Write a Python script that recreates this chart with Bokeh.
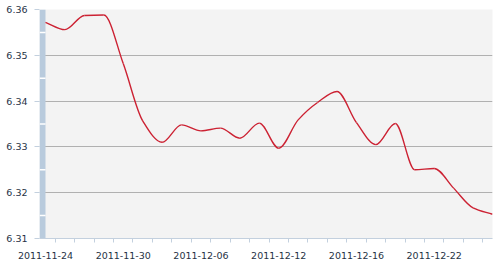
import numpy as np
from bokeh.plotting import figure
from bokeh.models import FixedTicker, Range1d
from bokeh.embed import file_html
from bokeh.resources import INLINE

dates = ["2011-11-24", "2011-11-25", "2011-11-28", "2011-11-29", "2011-11-30",
         "2011-12-01", "2011-12-02", "2011-12-05", "2011-12-06", "2011-12-07",
         "2011-12-08", "2011-12-09", "2011-12-12", "2011-12-13", "2011-12-14",
         "2011-12-15", "2011-12-16", "2011-12-19", "2011-12-20", "2011-12-21",
         "2011-12-22", "2011-12-23", "2011-12-26", "2011-12-27"]
rates = [6.3572, 6.3556, 6.3587, 6.3588, 6.3482, 6.3357, 6.3310, 6.3348,
         6.3335, 6.3341, 6.3319, 6.3352, 6.3297, 6.3359, 6.3397, 6.3421,
         6.3353, 6.3305, 6.3351, 6.3250, 6.3253, 6.3210, 6.3167, 6.3153]
y_ticks = [6.31, 6.32, 6.33, 6.34, 6.35, 6.36]
label_every = 4

n = len(rates)
xs = np.arange(n, dtype=float)
ys = np.array(rates)

pad = 6.0 / ((492 - 45) / (n - 1))  # left bar width in data units
p = figure(width=500, height=262, output_backend="svg", toolbar_location=None,
           x_range=Range1d(-pad, n - 1), y_range=Range1d(y_ticks[0], y_ticks[-1]),
           min_border_left=39, min_border_right=8, min_border_top=9, min_border_bottom=24)
p.background_fill_color = "#f3f3f3"
p.border_fill_color = "white"
p.outline_line_color = None

# left bar
p.quad(left=[-pad], right=[0], bottom=[y_ticks[0]], top=[y_ticks[-1]],
       fill_color="#b9cbdd", line_color=None)
halfs = [(a + b) / 2 for a, b in zip(y_ticks[:-1], y_ticks[1:])]
p.segment(x0=[-pad] * len(halfs), x1=[0] * len(halfs), y0=halfs, y1=halfs,
          line_color="white", line_width=1.5)

# smooth line: monotone cubic tangents rendered as beziers
d = np.diff(ys)
m = np.zeros(n)
m[0], m[-1] = d[0], d[-1]
for i in range(1, n - 1):
    if d[i - 1] * d[i] <= 0:
        m[i] = 0.0
    else:
        m[i] = 2.0 / (1.0 / d[i - 1] + 1.0 / d[i])
x0, y0 = xs[:-1], ys[:-1]
x1, y1 = xs[1:], ys[1:]
cx0 = x0 + 1 / 3
cy0 = y0 + m[:-1] / 3
cx1 = x1 - 1 / 3
cy1 = y1 - m[1:] / 3
p.bezier(x0=x0, y0=y0, x1=x1, y1=y1, cx0=cx0, cy0=cy0, cx1=cx1, cy1=cy1,
         line_color="#cc2233", line_width=1.4)

# axes
font = "DejaVu Sans"
lab_color = "#1f3345"
tick_color = "#c3d0de"

yax = p.yaxis[0]
yax.ticker = FixedTicker(ticks=y_ticks, minor_ticks=[])
yax.axis_line_color = None
yax.major_tick_out = 5
yax.major_tick_in = 0
yax.major_tick_line_color = tick_color
yax.minor_tick_line_color = None
yax.major_label_standoff = 7
yax.major_label_text_font = font
yax.major_label_text_font_size = "9.5px"
yax.major_label_text_color = lab_color
yax.major_label_overrides = {t: f"{t:.2f}" for t in y_ticks}

xax = p.xaxis[0]
major = list(range(0, n, label_every))
xax.ticker = FixedTicker(ticks=major, minor_ticks=[i + 0.5 for i in range(n - 1)])
xax.major_label_overrides = {i: dates[i] for i in major}
xax.axis_line_color = tick_color
xax.major_tick_line_color = None
xax.major_tick_out = 0
xax.major_tick_in = 0
xax.minor_tick_out = 4
xax.minor_tick_in = 0
xax.minor_tick_line_color = tick_color
xax.major_label_standoff = 9
xax.major_label_text_font = font
xax.major_label_text_font_size = "9.5px"
xax.major_label_text_color = lab_color

p.xgrid.grid_line_color = None
p.ygrid.ticker = FixedTicker(ticks=y_ticks)
p.ygrid.grid_line_color = "#b0b0b0"
p.ygrid.grid_line_width = 1

open("out.html", "w").write(file_html(p, INLINE))
